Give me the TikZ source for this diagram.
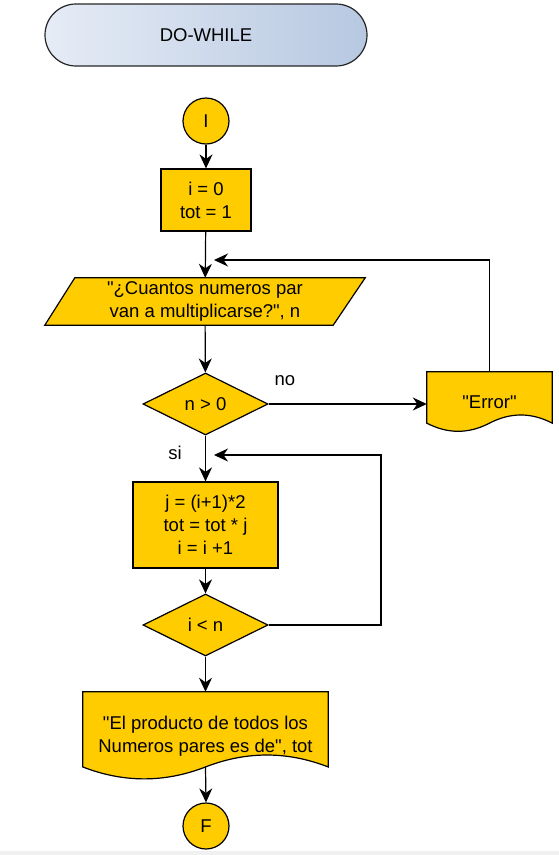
\documentclass[tikz,border=0pt]{standalone}
\usepackage{fontspec}
\setmainfont{Liberation Sans}[Ligatures=TeXOff]
\usetikzlibrary{shapes.geometric,arrows.meta,calc,backgrounds}

\definecolor{flowfill}{HTML}{FFCC00}
\definecolor{titleL}{HTML}{E6ECF6}
\definecolor{titleR}{HTML}{B7C8E1}
\definecolor{strip}{HTML}{F0F0F0}

\tikzset{
  every node/.style={font=\fontsize{18.5}{23}\selectfont, text=black},
  shapeline/.style={draw=black, line width=1.2pt, fill=flowfill},
  terminal/.style={circle, shapeline, minimum size=46pt, inner sep=0pt},
  process/.style={rectangle, shapeline, align=center, inner sep=0pt},
  decision/.style={diamond, shapeline, inner sep=0pt, aspect=2},
  textarea/.style={rectangle, draw=none, fill=none, align=center, inner sep=0pt},
  docfill/.style={draw=black, line width=1.2pt, fill=flowfill},
  arr/.style={draw=black, line width=1.2pt,
    -{Stealth[length=14pt, width=13pt, inset=4.5pt]}},
  lbl/.style={inner sep=0pt},
}

% wavy-bottom document outline around a text node
\newcommand\docoutline[1]{%
  \path[docfill] let \p1=(#1.north west), \p2=(#1.south east),
        \n1={\x2-\x1}, \n2={\y1-\y2} in
    (\p1) -- (\x2,\y1) -- (\x2,{\y1-0.85*\n2})
    .. controls ({\x1+0.8333*\n1},{\y1-0.67*\n2}) and ({\x1+0.6667*\n1},{\y1-0.67*\n2})
    .. ({\x1+0.5*\n1},{\y1-0.85*\n2})
    .. controls ({\x1+0.3333*\n1},{\y1-1.03*\n2}) and ({\x1+0.1667*\n1},{\y1-1.03*\n2})
    .. (\x1,{\y1-0.85*\n2}) -- cycle;}

\begin{document}
\begin{tikzpicture}[x=1pt, y=-1pt]
  \useasboundingbox (0,0) rectangle (559,855);

  % title banner
  \node[draw=black!85, line width=1.2pt, rounded corners=31pt,
        left color=titleL, right color=titleR,
        minimum width=322pt, minimum height=62pt, inner sep=0pt]
        (title) at (206,35) {DO-WHILE};

  % flow nodes
  \node[terminal] (start) at (206,121) {I};
  \node[process, minimum width=90pt, minimum height=62pt] (init) at (206,200)
        {i = 0\\tot = 1};
  \node[textarea, minimum width=320pt, minimum height=47pt] (ask) at (205,301.5)
        {"¿Cuantos numeros par\\van a multiplicarse?", n};
  \node[decision, minimum width=125pt, minimum height=62pt] (chk) at (205.5,404) {n > 0};
  \node[textarea, minimum width=125pt, minimum height=60pt] (err) at (489.5,402) {"Error"};
  \node[process, minimum width=145pt, minimum height=86pt] (body) at (205.5,525)
        {j = (i+1)*2\\tot = tot * j\\i = i +1};
  \node[decision, minimum width=125pt, minimum height=62pt] (cond) at (205.5,625) {i < n};
  \node[textarea, minimum width=245pt, minimum height=88pt] (out) at (205.5,736)
        {"El producto de todos los\\Numeros pares es de", tot};
  \node[terminal] (stop) at (206,826) {F};

  % page background and shapes drawn behind the text nodes
  \begin{scope}[on background layer]
    \fill[white] (0,0) rectangle (559,855);
    \fill[strip] (0,851) rectangle (559,855);
    \path[docfill] ($(ask.north west)+(30,0)$) -- (ask.north east)
          -- ($(ask.south east)+(-32,0)$) -- (ask.south west) -- cycle;
    \docoutline{err}
    \docoutline{out}
  \end{scope}

  % connector end points
  \coordinate (back1) at (214,260);
  \coordinate (back2) at (214,455);
  \coordinate (turn2) at (381,455);

  % connectors
  \draw[arr] (start) -- (init);
  \draw[arr] (init) -- (ask);
  \draw[arr] (ask) -- (chk);
  \draw[arr] (chk.east) -- (chk.east -| err.west);
  \draw[arr] (err.north) |- (back1);
  \draw[arr] (chk.south) -- (body.north);
  \draw[arr] (body) -- (cond);
  \draw[arr] (cond.east) -| (turn2) -- (back2);
  \draw[arr] (cond.south) -- (out.north);
  \draw[arr] ($(out.south)!0.15!(out.north)$) -- (stop.north);

  % branch labels
  \node[lbl] (nolbl) at (285,381) {no};
  \node[lbl] (silbl) at (175,453) {si};
\end{tikzpicture}
\end{document}
